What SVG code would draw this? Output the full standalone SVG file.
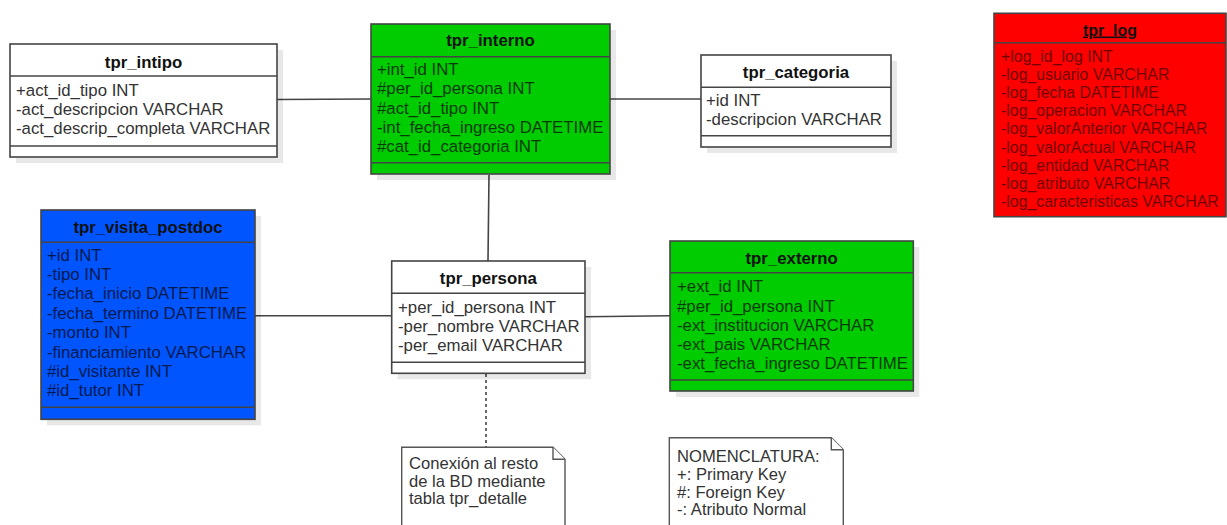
<svg xmlns="http://www.w3.org/2000/svg" width="1227" height="525" viewBox="0 0 1227 525">
<style>
text{font-family:"Liberation Sans",Arial,sans-serif;font-size:16.8px}
.t{font-weight:bold;text-anchor:middle;fill:#111}
.a{fill:#333}
.g{fill:#063a06}
.b{fill:#001a4d}
.r{fill:#700000;font-size:15.9px}
.box{stroke:#444;stroke-width:1.6}
.sh{fill:#000;opacity:0.09}
.ln{stroke:#444;stroke-width:1.6;fill:none}
.note{fill:#fff;stroke:#555;stroke-width:1.4}
.nt{fill:#333;font-size:16.6px}
</style>
<rect width="1227" height="525" fill="#fff"/>
<g id="connectors">
<line class="ln" x1="277" y1="99.5" x2="371" y2="99"/>
<line class="ln" x1="610" y1="99" x2="701" y2="99"/>
<line class="ln" x1="489" y1="175" x2="488" y2="261"/>
<line class="ln" x1="255" y1="315.7" x2="392" y2="315.7"/>
<line class="ln" x1="585" y1="316.7" x2="670" y2="315.7"/>
<line class="ln" x1="486" y1="374" x2="486" y2="447" stroke-dasharray="3 3"/>
</g>
<g id="tpr_intipo">
<rect class="sh" x="16" y="50" width="267" height="113"/>
<rect class="box" x="10" y="44" width="267" height="113" fill="#fff"/>
<line class="box" x1="10" y1="76" x2="277" y2="76"/>
<line class="box" x1="10" y1="146" x2="277" y2="146"/>
<text class="t" x="143.5" y="67.5">tpr_intipo</text>
<text class="a" x="16" y="95.5">+act_id_tipo INT</text>
<text class="a" x="16" y="114.8">-act_descripcion VARCHAR</text>
<text class="a" x="16" y="133.8">-act_descrip_completa VARCHAR</text>
</g>
<g id="tpr_interno">
<rect class="sh" x="377" y="30" width="239" height="150"/>
<rect class="box" x="371" y="24" width="239" height="150" fill="#00cc00"/>
<line class="box" x1="371" y1="56.7" x2="610" y2="56.7"/>
<line class="box" x1="371" y1="162.7" x2="610" y2="162.7"/>
<text class="t" x="490.5" y="46">tpr_interno</text>
<text class="g" x="377" y="75">+int_id INT</text>
<text class="g" x="377" y="94.3">#per_id_persona INT</text>
<text class="g" x="377" y="113.5">#act_id_tipo INT</text>
<text class="g" x="377" y="132.8">-int_fecha_ingreso DATETIME</text>
<text class="g" x="377" y="152">#cat_id_categoria INT</text>
</g>
<g id="tpr_categoria">
<rect class="sh" x="707" y="61" width="190" height="92"/>
<rect class="box" x="701" y="55" width="190" height="92" fill="#fff"/>
<line class="box" x1="701" y1="87.3" x2="891" y2="87.3"/>
<line class="box" x1="701" y1="135.7" x2="891" y2="135.7"/>
<text class="t" x="796" y="77.5">tpr_categoria</text>
<text class="a" x="706" y="105.5">+id INT</text>
<text class="a" x="706" y="124.8">-descripcion VARCHAR</text>
</g>
<g id="tpr_log">
<rect class="box" x="994" y="13.3" width="232" height="203.4" fill="#ff0000"/>
<line class="box" x1="994" y1="42.7" x2="1226" y2="42.7"/>
<text class="t" x="1110" y="35.5" style="font-size:15.9px;text-decoration:underline">tpr_log</text>
<text class="r" x="1001" y="62">+log_id_log INT</text>
<text class="r" x="1001" y="80.1">-log_usuario VARCHAR</text>
<text class="r" x="1001" y="98.2">-log_fecha DATETIME</text>
<text class="r" x="1001" y="116.3">-log_operacion VARCHAR</text>
<text class="r" x="1001" y="134.4">-log_valorAnterior VARCHAR</text>
<text class="r" x="1001" y="152.5">-log_valorActual VARCHAR</text>
<text class="r" x="1001" y="170.6">-log_entidad VARCHAR</text>
<text class="r" x="1001" y="188.7">-log_atributo VARCHAR</text>
<text class="r" x="1001" y="206.8">-log_caracteristicas VARCHAR</text>
</g>
<g id="tpr_visita_postdoc">
<rect class="sh" x="47" y="216" width="214" height="209.3"/>
<rect class="box" x="41" y="210" width="214" height="209.3" fill="#0055ff"/>
<line class="box" x1="41" y1="242.3" x2="255" y2="242.3"/>
<line class="box" x1="41" y1="407.3" x2="255" y2="407.3"/>
<text class="t" x="148" y="232.5">tpr_visita_postdoc</text>
<text class="b" x="47" y="260.5">+id INT</text>
<text class="b" x="47" y="279.9">-tipo INT</text>
<text class="b" x="47" y="299.3">-fecha_inicio DATETIME</text>
<text class="b" x="47" y="318.7">-fecha_termino DATETIME</text>
<text class="b" x="47" y="338.1">-monto INT</text>
<text class="b" x="47" y="357.5">-financiamiento VARCHAR</text>
<text class="b" x="47" y="376.9">#id_visitante INT</text>
<text class="b" x="47" y="396.3">#id_tutor INT</text>
</g>
<g id="tpr_persona">
<rect class="sh" x="397.7" y="267" width="193.3" height="112.3"/>
<rect class="box" x="391.7" y="261" width="193.3" height="112.3" fill="#fff"/>
<line class="box" x1="391.7" y1="293.3" x2="585" y2="293.3"/>
<line class="box" x1="391.7" y1="362.3" x2="585" y2="362.3"/>
<text class="t" x="488.3" y="284">tpr_persona</text>
<text class="a" x="398" y="313">+per_id_persona INT</text>
<text class="a" x="398" y="332">-per_nombre VARCHAR</text>
<text class="a" x="398" y="351.3">-per_email VARCHAR</text>
</g>
<g id="tpr_externo">
<rect class="sh" x="676" y="247" width="243.3" height="150"/>
<rect class="box" x="670" y="241" width="243.3" height="150" fill="#00cc00"/>
<line class="box" x1="670" y1="272.7" x2="913.3" y2="272.7"/>
<line class="box" x1="670" y1="380" x2="913.3" y2="380"/>
<text class="t" x="791.7" y="264">tpr_externo</text>
<text class="g" x="677" y="292.3">+ext_id INT</text>
<text class="g" x="677" y="311.5">#per_id_persona INT</text>
<text class="g" x="677" y="330.6">-ext_institucion VARCHAR</text>
<text class="g" x="677" y="349.8">-ext_pais VARCHAR</text>
<text class="g" x="677" y="368.9">-ext_fecha_ingreso DATETIME</text>
</g>
<g id="note_conexion">
<path class="note" d="M401.7,530 V447.3 H553 L565,459.3 V530"/>
<path class="note" d="M553,447.3 V459.3 H565" fill="none"/>
<text class="nt" x="409" y="469">Conexión al resto</text>
<text class="nt" x="409" y="486.5">de la BD mediante</text>
<text class="nt" x="409" y="504">tabla tpr_detalle</text>
</g>
<g id="note_nomenclatura">
<path class="note" d="M669.3,530 V437.7 H831.3 L843.3,449.7 V530"/>
<path class="note" d="M831.3,437.7 V449.7 H843.3" fill="none"/>
<text class="nt" x="677" y="462">NOMENCLATURA:</text>
<text class="nt" x="677" y="480">+: Primary Key</text>
<text class="nt" x="677" y="497.5">#: Foreign Key</text>
<text class="nt" x="677" y="515">-: Atributo Normal</text>
</g>
</svg>
